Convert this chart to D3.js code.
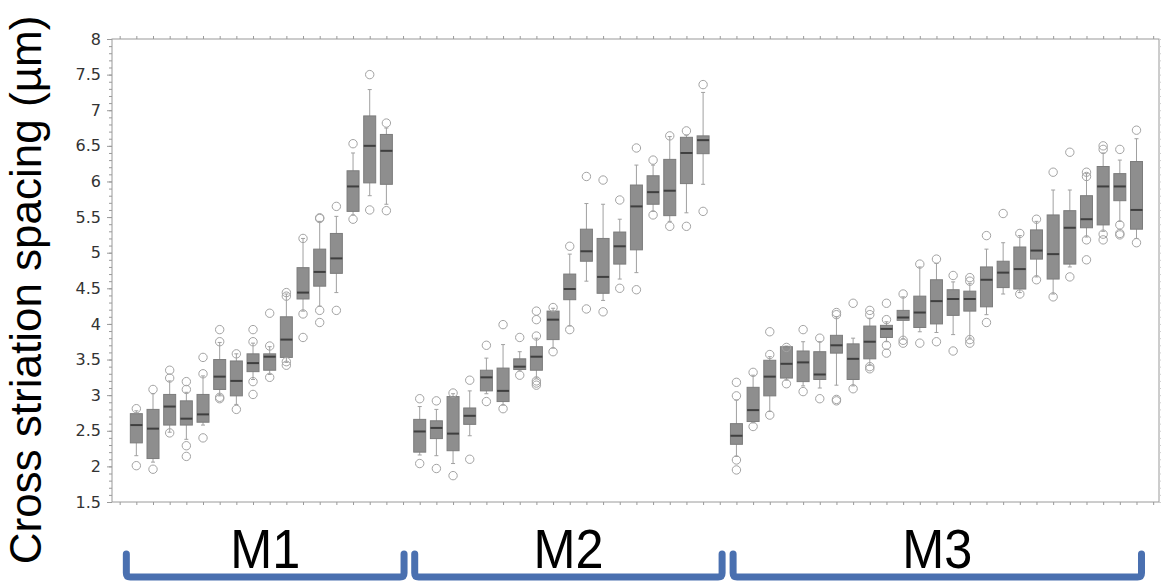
<!DOCTYPE html>
<html>
<head>
<meta charset="utf-8">
<script src="https://cdn.jsdelivr.net/npm/d3@7"></script>
<style>
  body { margin: 0; background: #fff; }
  svg { display: block; }
</style>
</head>
<body>
<div id="chart"></div>
<script>
// group names
var groups = ["M1", "M2", "M3"];

// each box: [whisker low, q1, median, q3, whisker high]
var m1Boxes = [
  [2.15, 2.33, 2.58, 2.74, 2.78], [2.06, 2.11, 2.53, 2.80, 3.02], [2.48, 2.58, 2.84, 3.01, 3.20],
  [2.38, 2.58, 2.67, 2.92, 3.04], [2.58, 2.62, 2.73, 3.01, 3.27], [2.99, 3.08, 3.26, 3.50, 3.74],
  [2.87, 2.99, 3.20, 3.48, 3.58], [3.22, 3.33, 3.45, 3.58, 3.73], [3.29, 3.35, 3.54, 3.58, 3.68],
  [3.46, 3.53, 3.78, 4.10, 4.42], [4.18, 4.35, 4.44, 4.79, 5.20], [4.25, 4.53, 4.73, 5.05, 5.44],
  [4.44, 4.71, 4.92, 5.27, 5.51], [5.53, 5.58, 5.93, 6.15, 6.40], [5.80, 5.98, 6.50, 6.92, 7.29],
  [5.68, 5.96, 6.43, 6.66, 6.75]
];
var m1Outliers = [
  [2.81, 2.01], [3.08, 1.96], [3.35, 3.24, 2.47], [3.19, 3.08, 2.29, 2.14], [3.53, 3.30, 2.40],
  [3.92, 3.75, 2.97, 2.95], [3.58, 2.80], [3.92, 3.75, 3.19, 3.01], [4.15, 3.69, 3.25],
  [4.44, 4.39, 3.47, 3.42], [5.20, 4.14, 3.81], [5.49, 5.48, 4.19, 4.02], [5.65, 4.19],
  [6.53, 5.47], [7.50, 5.60], [6.82, 5.59]
];

var m2Boxes = [
  [2.16, 2.20, 2.49, 2.66, 2.84], [2.15, 2.39, 2.54, 2.64, 2.80], [2.04, 2.22, 2.46, 2.98, 3.02],
  [2.43, 2.59, 2.71, 2.82, 3.06], [3.02, 3.06, 3.25, 3.35, 3.52], [2.86, 2.91, 3.06, 3.38, 3.71],
  [3.34, 3.36, 3.40, 3.51, 3.61], [3.24, 3.35, 3.54, 3.68, 3.80], [3.66, 3.78, 4.06, 4.18, 4.22],
  [3.97, 4.34, 4.49, 4.70, 4.98], [4.60, 4.88, 5.02, 5.33, 5.69], [4.33, 4.43, 4.66, 5.20, 5.68],
  [4.63, 4.84, 5.09, 5.29, 5.47], [4.72, 5.04, 5.65, 5.95, 6.23], [5.58, 5.68, 5.85, 6.08, 6.23],
  [5.44, 5.52, 5.87, 6.31, 6.63], [5.56, 5.97, 6.40, 6.62, 6.65], [5.96, 6.39, 6.58, 6.64, 7.25]
];
var m2Outliers = [
  [2.95, 2.04], [2.92, 1.97], [3.03, 1.87], [3.21, 2.10], [3.70, 2.91], [3.99, 2.81],
  [3.81, 3.28], [4.18, 4.06, 3.83, 3.20, 3.17, 3.14], [4.23, 3.61], [5.09, 3.92], [6.07, 4.21],
  [6.02, 4.17], [5.74, 4.50], [6.47, 4.48], [6.30, 5.53], [6.64, 5.37], [6.71, 5.37], [7.36, 5.58]
];

var m3Boxes = [
  [2.14, 2.31, 2.43, 2.60, 2.93], [2.61, 2.63, 2.79, 3.11, 3.28], [2.77, 2.99, 3.26, 3.49, 3.54],
  [3.21, 3.24, 3.44, 3.68, 3.69], [3.13, 3.19, 3.46, 3.62, 3.75], [3.10, 3.22, 3.29, 3.61, 3.75],
  [3.14, 3.59, 3.70, 3.84, 4.10], [3.13, 3.22, 3.51, 3.72, 3.80], [3.42, 3.51, 3.75, 3.97, 4.08],
  [3.75, 3.81, 3.93, 3.98, 4.03], [3.79, 4.05, 4.09, 4.19, 4.38], [3.89, 3.95, 4.16, 4.39, 4.80],
  [3.88, 4.00, 4.32, 4.62, 4.85], [3.85, 4.12, 4.35, 4.48, 4.59], [3.80, 4.18, 4.35, 4.46, 4.57],
  [4.13, 4.24, 4.62, 4.80, 5.05], [4.42, 4.51, 4.72, 4.88, 5.14], [4.44, 4.49, 4.77, 5.08, 5.24],
  [4.66, 4.91, 5.03, 5.32, 5.44], [4.42, 4.63, 4.98, 5.53, 5.88], [4.80, 4.84, 5.35, 5.59, 5.88],
  [5.22, 5.35, 5.47, 5.80, 6.11], [5.30, 5.39, 5.93, 6.21, 6.40], [5.44, 5.73, 5.93, 6.11, 6.30],
  [5.20, 5.33, 5.60, 6.28, 6.60]
];
var m3Outliers = [
  [3.18, 2.99, 2.09, 1.95], [3.32, 2.56], [3.89, 3.57, 2.72], [3.67, 3.16], [3.92, 3.05],
  [3.80, 2.95], [4.16, 4.13, 2.94, 2.92], [4.29, 3.09], [4.19, 4.13, 3.40, 3.37],
  [4.29, 4.06, 3.70, 3.59], [4.42, 3.77, 3.73], [4.84, 3.73], [4.91, 3.75], [4.68, 3.62],
  [4.65, 4.60, 3.78, 3.73], [5.24, 4.02], [5.55], [5.27, 4.42], [5.47, 4.62], [6.13, 4.38],
  [6.41, 4.66], [6.13, 6.07, 5.18, 4.90], [6.45, 6.50, 5.26, 5.18], [6.45, 5.39, 5.27, 5.25],
  [6.72, 5.14]
];

var yTicks = [1.5, 2, 2.5, 3, 3.5, 4, 4.5, 5, 5.5, 6, 6.5, 7, 7.5, 8];
var yTitle = "Cross striation spacing (\u00b5m)";

var width = 1162, height = 581;
var frame = {left: 112, right: 1159, top: 39, bottom: 502};

var svg = d3.select("#chart").append("svg")
  .attr("width", width)
  .attr("height", height);

// one slot per box, one empty slot between groups
var allBoxes = [m1Boxes, m2Boxes, m3Boxes];
var allOutliers = [m1Outliers, m2Outliers, m3Outliers];
var rows = [];
var slot = 0;
var groupSpans = [];
allBoxes.forEach(function(boxes, gi) {
  var first = slot;
  boxes.forEach(function(b, i) {
    rows.push({slot: slot, lo: b[0], q1: b[1], med: b[2], q3: b[3], hi: b[4], out: allOutliers[gi][i]});
    slot++;
  });
  groupSpans.push({name: groups[gi], first: first, last: slot - 1});
  slot++;
});

var x = d3.scaleLinear().domain([-1.46, 61.35]).range([frame.left, frame.right]);
var y = d3.scaleLinear().domain([1.5, 8]).range([frame.bottom, frame.top]);

var axisColor = "#9a9a9a";
var slotTicks = d3.range(-1, 62);
var minorY = d3.range(15, 81).map(function(d) { return d / 10; });

// frame
svg.append("rect")
  .attr("x", frame.left).attr("y", frame.top)
  .attr("width", frame.right - frame.left).attr("height", frame.bottom - frame.top)
  .attr("fill", "none").attr("stroke", axisColor).attr("stroke-width", 1);

// left axis
var leftAx = svg.append("g").attr("transform", "translate(" + frame.left + ",0)");
leftAx.append("g").call(d3.axisLeft(y).tickValues(minorY).tickSize(3).tickFormat(""));
leftAx.append("g").call(d3.axisLeft(y).tickValues(yTicks).tickSize(5).tickPadding(6)
  .tickFormat(function(d) { return d; }));
leftAx.selectAll(".domain").remove();
leftAx.selectAll("line").attr("stroke", axisColor);
leftAx.selectAll("text")
  .style("font-family", "'DejaVu Sans', sans-serif")
  .style("font-size", "16px")
  .attr("fill", "#333");

// right axis minor ticks
var rightAx = svg.append("g").attr("transform", "translate(" + frame.right + ",0)");
rightAx.call(d3.axisRight(y).tickValues(minorY).tickSize(2).tickFormat(""));
rightAx.selectAll(".domain").remove();
rightAx.selectAll("line").attr("stroke", "#cfcfcf");

// top and bottom ticks
var topAx = svg.append("g").attr("transform", "translate(0," + frame.top + ")");
topAx.call(d3.axisTop(x).tickValues(slotTicks).tickSize(3).tickFormat(""));
var bottomAx = svg.append("g").attr("transform", "translate(0," + frame.bottom + ")");
bottomAx.call(d3.axisBottom(x).tickValues(slotTicks).tickSize(3).tickFormat(""));
[topAx, bottomAx].forEach(function(a) {
  a.selectAll(".domain").remove();
  a.selectAll("line").attr("stroke", axisColor);
});

// boxes
var boxW = 12;
var capW = 4;
var g = svg.selectAll(".box").data(rows).enter().append("g").attr("class", "box");

g.append("line")
  .attr("x1", function(d) { return x(d.slot); })
  .attr("x2", function(d) { return x(d.slot); })
  .attr("y1", function(d) { return y(d.lo); })
  .attr("y2", function(d) { return y(d.hi); })
  .attr("stroke", "#a0a0a0").attr("stroke-width", 1);

g.selectAll(".cap").data(function(d) { return [{s: d.slot, v: d.lo}, {s: d.slot, v: d.hi}]; })
  .enter().append("line")
  .attr("x1", function(d) { return x(d.s) - capW / 2; })
  .attr("x2", function(d) { return x(d.s) + capW / 2; })
  .attr("y1", function(d) { return y(d.v); })
  .attr("y2", function(d) { return y(d.v); })
  .attr("stroke", "#a0a0a0").attr("stroke-width", 1);

g.append("rect")
  .attr("x", function(d) { return x(d.slot) - boxW / 2; })
  .attr("y", function(d) { return y(d.q3); })
  .attr("width", boxW)
  .attr("height", function(d) { return y(d.q1) - y(d.q3); })
  .attr("fill", "#8e8e8e")
  .attr("stroke", "#7c7c7c").attr("stroke-width", 1);

g.append("line")
  .attr("x1", function(d) { return x(d.slot) - boxW / 2; })
  .attr("x2", function(d) { return x(d.slot) + boxW / 2; })
  .attr("y1", function(d) { return y(d.med); })
  .attr("y2", function(d) { return y(d.med); })
  .attr("stroke", "#3f3f3f").attr("stroke-width", 2);

g.selectAll(".out").data(function(d) { return d.out.map(function(v) { return {s: d.slot, v: v}; }); })
  .enter().append("circle")
  .attr("cx", function(d) { return x(d.s); })
  .attr("cy", function(d) { return y(d.v); })
  .attr("r", 4.2)
  .attr("fill", "none")
  .attr("stroke", "#a3a3a3").attr("stroke-width", 1);

// y title
svg.append("text")
  .attr("transform", "translate(41," + 290 + ") rotate(-90)")
  .attr("text-anchor", "middle")
  .style("font-family", "'Liberation Sans', Arial, sans-serif")
  .style("font-size", "44px")
  .attr("fill", "#000")
  .text(yTitle);

// group labels and brackets
var bracketEdges = [[-0.6, 1.06], [-0.3, 1.14], [-0.2, 0.3]];
groupSpans.forEach(function(s, i) {
  var x0 = x(s.first + bracketEdges[i][0]);
  var x1 = x(s.last + bracketEdges[i][1]);
  var cx = (x0 + x1) / 2;
  // labels look slightly condensed in the reference
  svg.append("text")
    .attr("transform", "translate(" + cx + ",568) scale(0.9,1)")
    .attr("text-anchor", "middle")
    .style("font-family", "'Liberation Sans', Arial, sans-serif")
    .style("font-size", "56px")
    .attr("fill", "#000")
    .text(s.name);
  var r = 4;
  var yTop = 554, yBot = 577;
  svg.append("path")
    .attr("d", "M" + x0 + "," + yTop + " L" + x0 + "," + (yBot - r) +
      " Q" + x0 + "," + yBot + " " + (x0 + r) + "," + yBot +
      " L" + (x1 - r) + "," + yBot +
      " Q" + x1 + "," + yBot + " " + x1 + "," + (yBot - r) +
      " L" + x1 + "," + yTop)
    .attr("fill", "none")
    .attr("stroke", "#4a70b0")
    .attr("stroke-width", 7)
    .attr("stroke-linecap", "round");
});
</script>
</body>
</html>
